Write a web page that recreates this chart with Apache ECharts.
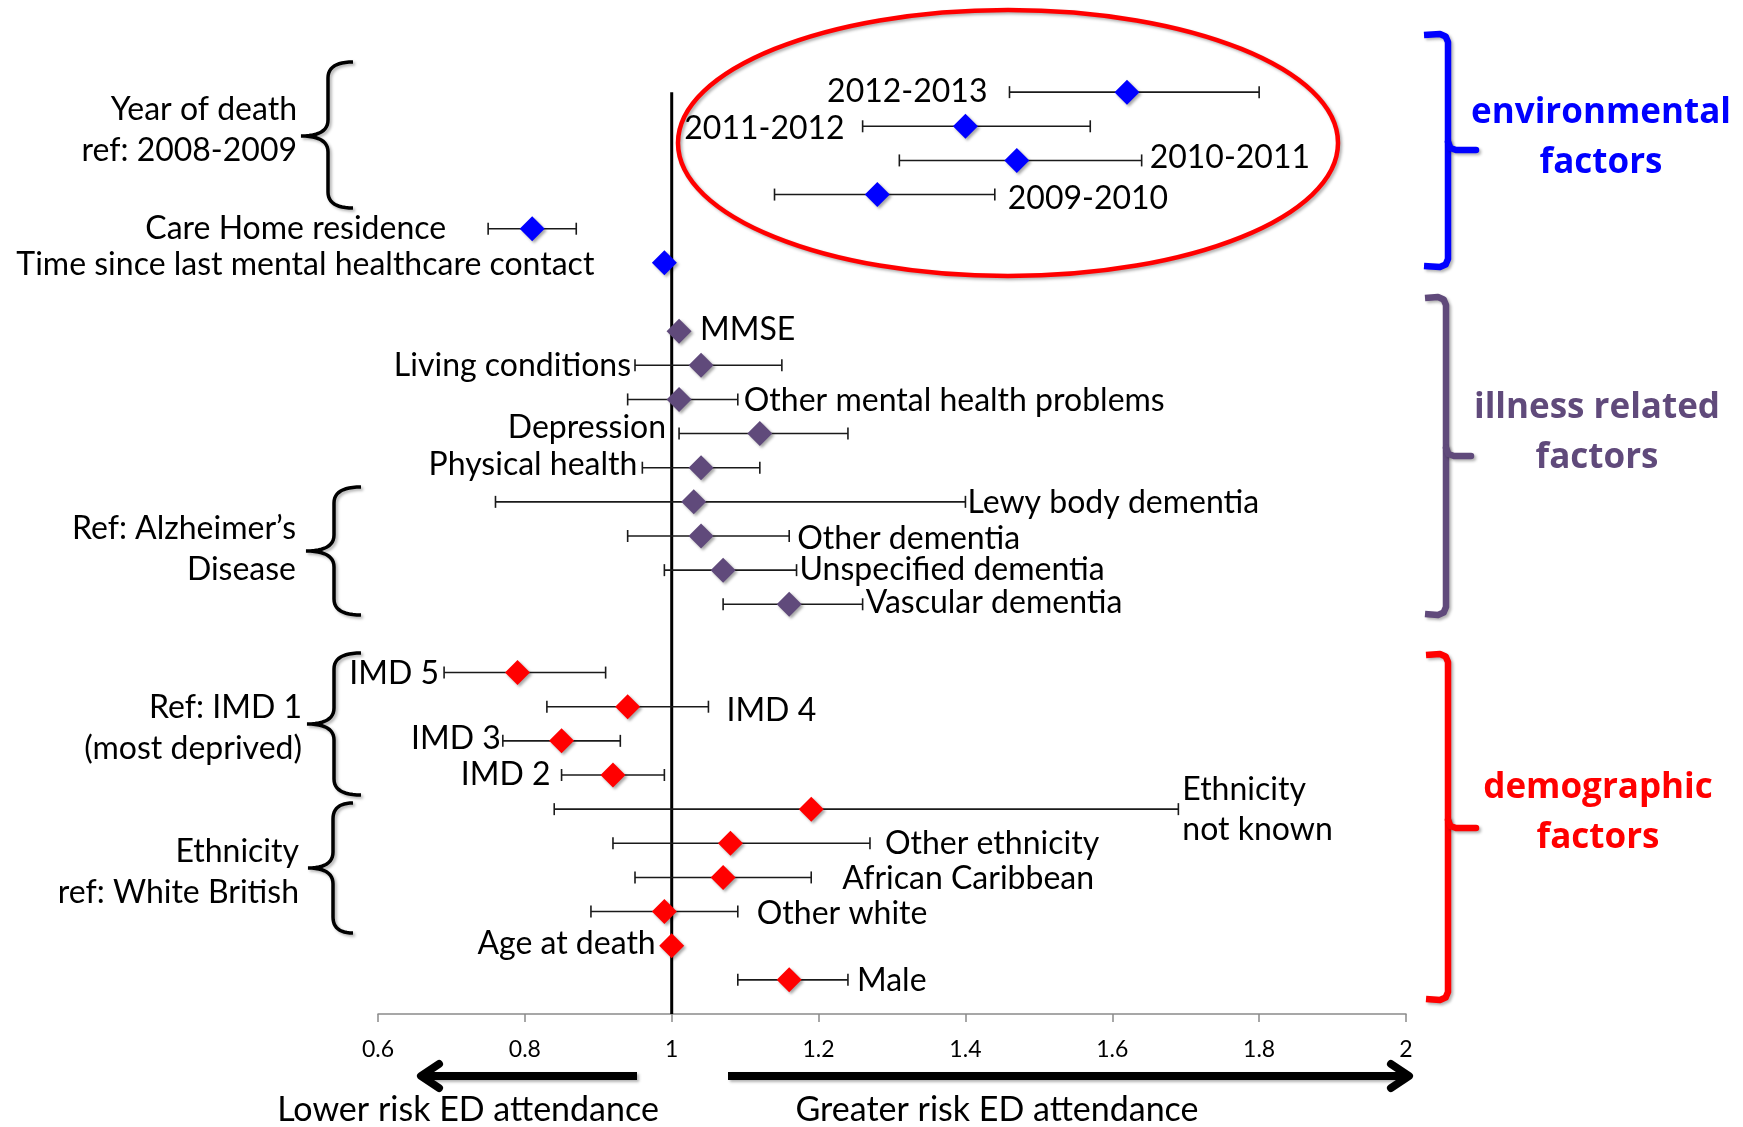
<!DOCTYPE html>
<html>
<head>
<meta charset="utf-8">
<script src="https://cdn.jsdelivr.net/npm/echarts@6/dist/echarts.min.js"></script>
<style>
  html, body { margin: 0; padding: 0; background: #ffffff; }
  #chart { width: 1743px; height: 1127px; }
</style>
</head>
<body>
<div id="chart"></div>
<script>
// Odds ratios (with 95% CI) for ED attendance in the last year of life
const factors = [
  '2012-2013', '2011-2012', '2010-2011', '2009-2010', 'Care Home residence',
  'Time since last mental healthcare contact',
  'MMSE', 'Living conditions', 'Other mental health problems', 'Depression',
  'Physical health', 'Lewy body dementia', 'Other dementia', 'Unspecified dementia',
  'Vascular dementia',
  'IMD 5', 'IMD 4', 'IMD 3', 'IMD 2', 'Ethnicity\nnot known', 'Other ethnicity',
  'African Caribbean', 'Other white', 'Age at death', 'Male'
];
const factorGroup = [
  'env', 'env', 'env', 'env', 'env', 'env',
  'ill', 'ill', 'ill', 'ill', 'ill', 'ill', 'ill', 'ill', 'ill',
  'dem', 'dem', 'dem', 'dem', 'dem', 'dem', 'dem', 'dem', 'dem', 'dem'
];
const oddsRatio = [
  1.62, 1.40, 1.47, 1.28, 0.81, 0.99,
  1.01, 1.04, 1.01, 1.12, 1.04, 1.03, 1.04, 1.07, 1.16,
  0.79, 0.94, 0.85, 0.92, 1.19, 1.08, 1.07, 0.99, 1.00, 1.16
];
const ciLower = [
  1.46, 1.26, 1.31, 1.14, 0.75, null,
  null, 0.95, 0.94, 1.01, 0.96, 0.76, 0.94, 0.99, 1.07,
  0.69, 0.83, 0.77, 0.85, 0.84, 0.92, 0.95, 0.89, null, 1.09
];
const ciUpper = [
  1.80, 1.57, 1.64, 1.44, 0.87, null,
  null, 1.15, 1.09, 1.24, 1.12, 1.40, 1.16, 1.17, 1.26,
  0.91, 1.05, 0.93, 0.99, 1.69, 1.27, 1.19, 1.09, null, 1.24
];
const referenceValue = 1;
const groupOrder = ['env', 'ill', 'dem'];
const groupTitles = ['environmental\nfactors', 'illness related\nfactors', 'demographic\nfactors'];
const referenceNotes = [
  'Year of death\nref: 2008-2009',
  'Ref: Alzheimer\u2019s\nDisease',
  'Ref: IMD 1\n(most deprived)',
  'Ethnicity\nref: White British'
];
const directionLabels = ['Lower risk ED attendance', 'Greater risk ED attendance'];

// ---- styling ----
const groupColors = { env: '#0000ff', ill: '#604a7b', dem: '#ff0000' };
const FONT = 'Lato';
const LABEL_SIZE = 32;
// where each factor's name sits: next to the lower CI end, the upper CI end, or the point itself
const labelPlacement = [
  { at: 'lo', gap: 22, dy: 0 },  { at: 'lo', gap: 18, dy: 2 },  { at: 'hi', gap: 8, dy: -3 },
  { at: 'hi', gap: 13, dy: 4 },  { at: 'lo', gap: 42, dy: 0 },  { at: 'ptL', gap: 70, dy: 2 },
  { at: 'ptR', gap: 21, dy: -1 }, { at: 'lo', gap: 4, dy: 0 },  { at: 'hi', gap: 6, dy: 1 },
  { at: 'lo', gap: 13, dy: -6 }, { at: 'lo', gap: 5, dy: -3 },  { at: 'hi', gap: 2, dy: 1 },
  { at: 'hi', gap: 8, dy: 3 },   { at: 'hi', gap: 3, dy: 0 },   { at: 'hi', gap: 3, dy: -2 },
  { at: 'lo', gap: 5, dy: 1 },   { at: 'hi', gap: 18, dy: 4 },  { at: 'lo', gap: 2, dy: -2 },
  { at: 'lo', gap: 11, dy: 0 },  { at: 'hi', gap: 4, dy: 1 },   { at: 'hi', gap: 15, dy: 0 },
  { at: 'hi', gap: 31, dy: 1 },  { at: 'hi', gap: 19, dy: 2 },  { at: 'ptL', gap: 16, dy: -2 },
  { at: 'hi', gap: 9, dy: 1 }
];

// one blank row between groups
const rowOf = factors.map((f, i) => i + groupOrder.indexOf(factorGroup[i]));
const lastRow = rowOf[rowOf.length - 1] + 1;

const chart = echarts.init(document.getElementById('chart'), null, { renderer: 'canvas' });

// curly brace opening to the right, tip pointing left
function bracePoints(xEnd, xBody, xTip, yTop, yMid, yBot, r) {
  const pts = [];
  function quad(p0, c, p1) {
    for (let k = 0; k <= 12; k++) {
      const t = k / 12, u = 1 - t;
      pts.push([u * u * p0[0] + 2 * u * t * c[0] + t * t * p1[0], u * u * p0[1] + 2 * u * t * c[1] + t * t * p1[1]]);
    }
  }
  quad([xEnd, yTop], [xBody, yTop], [xBody, yTop + r]);
  quad([xBody, yMid - r], [xBody, yMid], [xTip, yMid]);
  quad([xTip, yMid], [xBody, yMid], [xBody, yMid + r]);
  quad([xBody, yBot - r], [xBody, yBot], [xEnd, yBot]);
  return pts;
}
// square bracket with a middle tick, opening to the left
function bracketPoints(xEnd, xBody, yTop, yBot, r) {
  const pts = [[xEnd, yTop + 1], [xBody - r, yTop]];
  pts.push([xBody - r * 0.3, yTop + r * 0.3], [xBody, yTop + r]);
  pts.push([xBody, yBot - r], [xBody - r * 0.3, yBot - r * 0.3], [xBody - r, yBot], [xEnd, yBot - 1]);
  return pts;
}
function tickPoints(xBody, xTick, yMid, r) {
  return [[xBody, yMid - r], [xBody + r * 0.3, yMid - 2], [xBody + r, yMid], [xTick, yMid]];
}

const shadow = { shadowBlur: 3, shadowOffsetX: 2, shadowOffsetY: 2, shadowColor: 'rgba(0,0,0,0.3)' };

const graphics = [];
// left-hand reference notes with braces
const noteAnchors = [
  { right: 297, y: 130, brace: [353, 328, 301, 62, 136, 208] },
  { right: 296, y: 549, brace: [361, 334, 306, 487, 551, 615] },
  { right: 302, y: 728, brace: [361, 334, 307, 653, 724, 795] },
  { right: 299, y: 872, brace: [353, 333, 308, 803, 868, 933] }
];
noteAnchors.forEach((a, k) => {
  graphics.push({
    type: 'text', style: {
      text: referenceNotes[k], x: a.right, y: a.y, align: 'right', verticalAlign: 'middle',
      fontFamily: FONT, fontSize: LABEL_SIZE, lineHeight: 41, fill: '#000'
    }
  });
  const b = a.brace;
  graphics.push({
    type: 'polyline', shape: { points: bracePoints(b[0], b[1], b[2], b[3], b[4], b[5], 16) },
    style: Object.assign({ stroke: '#000', lineWidth: 3.5, fill: null }, shadow)
  });
});
// right-hand group brackets and titles
const groupAnchors = [
  { top: 34, bot: 267, mid: 150, xEnd: 1424, xBody: 1448, xTick: 1476, tx: 1601, ty: 138 },
  { top: 297, bot: 615, mid: 456, xEnd: 1425, xBody: 1446, xTick: 1471, tx: 1597, ty: 433 },
  { top: 654, bot: 1000, mid: 828, xEnd: 1426, xBody: 1448, xTick: 1476, tx: 1598, ty: 813 }
];
groupAnchors.forEach((g, k) => {
  const color = groupColors[groupOrder[k]];
  graphics.push({
    type: 'polyline', shape: { points: bracketPoints(g.xEnd, g.xBody, g.top, g.bot, 8) },
    style: Object.assign({ stroke: color, lineWidth: 6.5, fill: null, lineJoin: 'round' }, shadow)
  });
  graphics.push({
    type: 'polyline', shape: { points: tickPoints(g.xBody, g.xTick, g.mid, 8) },
    style: Object.assign({ stroke: color, lineWidth: 6.5, fill: null, lineJoin: 'round', lineCap: 'round' }, shadow)
  });
  graphics.push({
    type: 'text', style: {
      text: groupTitles[k], x: g.tx, y: g.ty, align: 'center', verticalAlign: 'middle',
      fontFamily: 'Open Sans', fontWeight: 'bold', fontSize: 35, lineHeight: 50, fill: color
    }
  });
});
// highlight around the year-of-death estimates
graphics.push({
  type: 'ellipse', shape: { cx: 1008, cy: 143, rx: 330, ry: 133 },
  style: Object.assign({ stroke: '#ff0000', lineWidth: 4.5, fill: 'rgba(0,0,0,0)' }, shadow)
});
// direction arrows under the axis
const arrowY = 1076;
const arrowStyle = { stroke: '#000', lineWidth: 8, fill: null, lineJoin: 'round', lineCap: 'round' };
graphics.push(
  { type: 'line', shape: { x1: 637, y1: arrowY, x2: 424, y2: arrowY }, style: Object.assign({ stroke: '#000', lineWidth: 8 }, shadow) },
  { type: 'polyline', shape: { points: [[439, arrowY - 12], [421, arrowY], [439, arrowY + 12]] }, style: arrowStyle },
  { type: 'line', shape: { x1: 728, y1: arrowY, x2: 1404, y2: arrowY }, style: Object.assign({ stroke: '#000', lineWidth: 8 }, shadow) },
  { type: 'polyline', shape: { points: [[1391, arrowY - 12], [1409, arrowY], [1391, arrowY + 12]] }, style: arrowStyle },
  { type: 'text', style: { text: directionLabels[0], x: 468, y: 1110, align: 'center', verticalAlign: 'middle', fontFamily: FONT, fontSize: 34, fill: '#000' } },
  { type: 'text', style: { text: directionLabels[1], x: 997, y: 1110, align: 'center', verticalAlign: 'middle', fontFamily: FONT, fontSize: 34, fill: '#000' } }
);

chart.setOption({
  animation: false,
  backgroundColor: '#ffffff',
  grid: { left: 378, right: 337, top: 58, bottom: 113, containLabel: false },
  xAxis: {
    type: 'value', min: 0.6, max: 2, interval: 0.2,
    axisLine: { show: true, onZero: false, lineStyle: { color: '#8a8a8a', width: 1.5 } },
    axisTick: { show: true, length: 8, lineStyle: { color: '#8a8a8a', width: 1.5 } },
    axisLabel: {
      color: '#000', fontFamily: FONT, fontSize: 23, margin: 24,
      formatter: v => String(+v.toFixed(1))
    },
    splitLine: { show: false }
  },
  yAxis: { type: 'value', min: -1, max: lastRow, inverse: true, show: false },
  series: [
    {
      type: 'line', z: 2, symbol: 'none', silent: true,
      data: [[referenceValue, 0], [referenceValue, lastRow]],
      lineStyle: { color: '#000', width: 3 }
    },
    {
      type: 'custom', z: 3, silent: true,
      data: factors.map((f, i) => [
        oddsRatio[i],
        ciLower[i] == null ? oddsRatio[i] : ciLower[i],
        ciUpper[i] == null ? oddsRatio[i] : ciUpper[i],
        rowOf[i], i
      ]),
      encode: { x: [0, 1, 2], y: 3 },
      renderItem: function (params, api) {
        const i = api.value(4);
        const row = api.value(3);
        const pC = api.coord([api.value(0), row]);
        const pL = api.coord([api.value(1), row]);
        const pH = api.coord([api.value(2), row]);
        const children = [];
        if (ciLower[i] != null) {
          const ls = { stroke: '#1a1a1a', lineWidth: 1.6 };
          children.push(
            { type: 'line', shape: { x1: pL[0], y1: pL[1], x2: pH[0], y2: pH[1] }, style: ls },
            { type: 'line', shape: { x1: pL[0], y1: pL[1] - 6, x2: pL[0], y2: pL[1] + 6 }, style: ls },
            { type: 'line', shape: { x1: pH[0], y1: pH[1] - 6, x2: pH[0], y2: pH[1] + 6 }, style: ls }
          );
        }
        const pl = labelPlacement[i];
        let x, align;
        if (pl.at === 'lo') { x = pL[0] - pl.gap; align = 'right'; }
        else if (pl.at === 'hi') { x = pH[0] + pl.gap; align = 'left'; }
        else if (pl.at === 'ptL') { x = pC[0] - pl.gap; align = 'right'; }
        else { x = pC[0] + pl.gap; align = 'left'; }
        children.push({
          type: 'text',
          style: {
            text: factors[i], x: x, y: pC[1] + pl.dy, align: align, verticalAlign: 'middle',
            fontFamily: FONT, fontSize: LABEL_SIZE, lineHeight: 40, fill: '#000'
          }
        });
        return { type: 'group', children: children };
      }
    },
    {
      type: 'scatter', z: 4, silent: true,
      symbol: 'diamond', symbolSize: 25,
      data: factors.map((f, i) => ({
        name: f,
        value: [oddsRatio[i], rowOf[i]],
        itemStyle: { color: groupColors[factorGroup[i]] }
      })),
      itemStyle: { shadowBlur: 3, shadowOffsetX: 2, shadowOffsetY: 2, shadowColor: 'rgba(0,0,0,0.35)', opacity: 1 }
    }
  ],
  graphic: graphics
});
</script>
</body>
</html>
